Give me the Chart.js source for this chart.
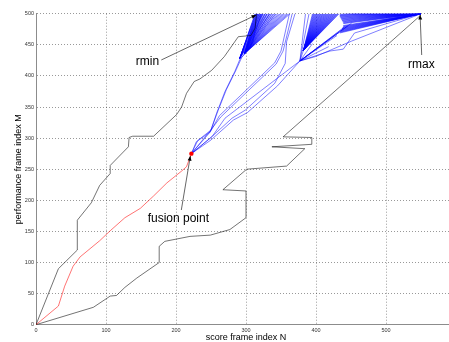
<!DOCTYPE html>
<html>
<head>
<meta charset="utf-8">
<script src="https://cdn.jsdelivr.net/npm/chart.js@4.4.1/dist/chart.umd.min.js"></script>
<style>
  html, body { margin: 0; padding: 0; overflow: hidden; background: #fff; }
  #wrap { width: 460px; height: 342px; }
</style>
</head>
<body>
<div id="wrap"><canvas id="chart" width="460" height="342"></canvas></div>
<script>
const FONT = '"Liberation Sans", Arial, Helvetica, sans-serif';

const xTicks = [0, 100, 200, 300, 400, 500];
const yTicks = [0, 50, 100, 150, 200, 250, 300, 350, 400, 450, 500];

// boundary paths [N, M]
const rminPath = [[0,0],[32,90],[59,120],[59,168],[79,196],[91,224],[106,243],[106,256],[132,286],[133,301],[138,303],[168,303],[201,338],[208,350],[215,372],[226,391],[234,395],[251,409],[269,431],[289,463],[307,465],[313,477],[315,500]];
const rmaxPath = [[0,0],[82,28],[106,46],[115,47],[127,60],[144,75],[176,100],[176,126],[184,134],[220,142],[249,144],[277,153],[300,172],[300,215],[267,217],[301,250],[358,255],[384,283],[337,286],[394,290],[394,301],[353,302],[499,447],[550,498]];

// path before fusion
const redPath = [[0,0],[32,30],[41,62],[53,94],[63,109],[91,135],[106,151],[127,172],[149,187],[168,207],[187,228],[208,247],[215,254],[222,275]];
const fusionPoint = [222, 275];

// blue paths after fusion
const blueA = [[222,275],[229,294],[249,310],[258,340],[270,375],[284,407],[291,426],[303,442],[310,455],[316,500]];
const blueB = [[222,275],[231,296],[250,313],[260,344],[272,378],[286,410],[294,430],[306,446],[322,500]];
const blueC = [[222,275],[249,310],[262,336],[341,421],[350,440],[362,500]];
const blueD = [[222,275],[249,312],[264,334],[343,419],[353,440],[366,500]];
const blueE = [[222,275],[249,300],[280,332],[299,345],[341,388],[356,420],[358,455],[370,500]];
const blueF = [[222,275],[250,297],[282,329],[302,341],[345,384],[377,424]];
const blueG = [[222,275],[252,303],[270,332],[377,424]];
const blueH = [[377,424],[399,431],[451,456],[550,500]];
const blueI = [[377,424],[420,440],[439,443],[455,469],[550,500]];

// fans: apex and end points
const fanAApex = [298, 436];
const fanAEnds = [[313,500],[314,500],[315,500],[316,500],[317,500],[318,500],[319,500],[320,500],[321,500],[322,500],[323,500],[324,500],[325,500],[327,500],[328,500],[330,500],[331,500],[333,500],[334,500],[336,500],[337,500],[339,500],[340,500],[342,500],[343,500],[345,500],[347,500],[349,500],[351,500],[353,500],[355,500],[357,500],[359,500],[361,500],[363,500]];
const fanA2Apex = [291, 428];
const fanA2Ends = [[300,455],[303,465],[306,475],[309,485],[311,492],[313,500],[315,500],[317,500],[319,500],[321,500],[324,500],[327,500],[330,500],[334,500]];
const fanBApex = [382, 441];
const fanBEnds = [[395,500],[396,500],[397,500],[398,500],[399,500],[400,500],[401,500],[402,500],[403,500],[404,500],[405,500],[406,500],[407,500],[408,500],[409,500],[410,500],[411,500],[412,500],[413,500],[414,500],[415,500],[416,500],[417,500],[418,500],[419,500],[420,500],[421,500],[422,500],[423,500],[424,500],[425,500],[426,500],[427,500],[428,500],[429,500],[430,500],[431,500],[432,500],[433,500]];
const fanB2Apex = [377, 424];
const fanB2Ends = [[382,441],[385,500],[390,500],[395,452],[418,447],[430,465],[433,470],[436,474],[440,478],[445,480],[451,485]];
const fanCApex = [550, 500];
const fanCEnds = [[434,469],[434,470],[435,471],[435,472],[436,473],[436,474],[437,475],[437,476],[438,477],[438,478],[439,479],[439,480],[439,481],[439,484],[439,485],[439,486],[438,487],[438,488],[437,489],[437,490],[436,491],[436,492],[435,493],[435,494],[434,495],[434,496],[434,497],[434,498],[434,499],[436,500],[440,500],[445,500],[452,500]];

// annotations
const annoText = ["rmin", "rmax", "fusion point"];
const annoTextAt = [[142.5, 423], [531.5, 418.5], [159.5, 170]];
const annoArrowFrom = [[179, 425.6], [551, 433.6], [207.6, 184.4]];
const annoArrowTo = [[314.5, 498], [548.7, 498], [220.5, 271.2]];

const BLUE = "rgba(0,0,255,0.5)";
const BLACK = "rgba(0,0,0,0.55)";
const RED = "rgba(255,0,0,0.55)";

function pts(arr) {
  return arr.map(([x, y]) => ({ x, y }));
}

function fanPts(apex, ends) {
  const out = [];
  ends.forEach(([x, y]) => {
    out.push({ x: apex[0], y: apex[1] });
    out.push({ x, y });
    out.push({ x, y: null });
  });
  return out;
}

function lineSet(data, color) {
  return {
    data: data,
    borderColor: color,
    borderWidth: 1,
    showLine: true,
    pointRadius: 0,
    spanGaps: false,
    tension: 0,
  };
}

const annotations = {
  id: "annotations",
  afterDatasetsDraw(chart) {
    const { ctx, scales } = chart;
    const px = (p) => [scales.x.getPixelForValue(p[0]), scales.y.getPixelForValue(p[1])];
    ctx.save();
    annoText.forEach((text, i) => {
      const [x1, y1] = px(annoArrowFrom[i]);
      const [x2, y2] = px(annoArrowTo[i]);
      ctx.strokeStyle = "rgba(0,0,0,0.6)";
      ctx.lineWidth = 1;
      ctx.beginPath();
      ctx.moveTo(x1, y1);
      ctx.lineTo(x2, y2);
      ctx.stroke();
      const a = Math.atan2(y2 - y1, x2 - x1);
      ctx.fillStyle = "#000";
      ctx.beginPath();
      ctx.moveTo(x2, y2);
      ctx.lineTo(x2 - 5 * Math.cos(a - 0.4), y2 - 5 * Math.sin(a - 0.4));
      ctx.lineTo(x2 - 5 * Math.cos(a + 0.4), y2 - 5 * Math.sin(a + 0.4));
      ctx.closePath();
      ctx.fill();
      const [tx, ty] = px(annoTextAt[i]);
      ctx.font = "12px " + FONT;
      ctx.textAlign = "left";
      ctx.textBaseline = "middle";
      ctx.fillText(text, tx, ty);
    });
    ctx.restore();
  },
};

new Chart(document.getElementById("chart"), {
  type: "scatter",
  data: {
    datasets: [
      {
        data: [{ x: fusionPoint[0], y: fusionPoint[1] }],
        pointRadius: 2.2,
        pointBackgroundColor: "#ff0000",
        pointBorderWidth: 0,
        showLine: false,
      },
      lineSet(pts(redPath), RED),
      lineSet(pts(rminPath), BLACK),
      lineSet(pts(rmaxPath), BLACK),
      lineSet(pts(blueA), BLUE),
      lineSet(pts(blueB), BLUE),
      lineSet(pts(blueC), BLUE),
      lineSet(pts(blueD), BLUE),
      lineSet(pts(blueE), BLUE),
      lineSet(pts(blueF), BLUE),
      lineSet(pts(blueG), BLUE),
      lineSet(pts(blueH), BLUE),
      lineSet(pts(blueI), BLUE),
      lineSet(fanPts(fanAApex, fanAEnds), BLUE),
      lineSet(fanPts(fanA2Apex, fanA2Ends), BLUE),
      lineSet(fanPts(fanBApex, fanBEnds), BLUE),
      lineSet(fanPts(fanB2Apex, fanB2Ends), BLUE),
      lineSet(fanPts(fanCApex, fanCEnds), BLUE),
    ],
  },
  options: {
    responsive: false,
    animation: false,
    layout: { padding: { top: 13.7, right: 0, bottom: 0, left: 0 } },
    plugins: { legend: { display: false }, tooltip: { enabled: false } },
    scales: {
      x: {
        type: "linear",
        min: 0,
        max: 600,
        afterBuildTicks: (s) => { s.ticks = xTicks.map((v) => ({ value: v })); },
        afterFit: (s) => { s.height = 17.3; },
        ticks: { font: { size: 5.5, family: FONT }, color: "#333", padding: 2, maxRotation: 0 },
        grid: { color: "rgba(0,0,0,0.4)", drawTicks: false },
        border: { dash: [1, 2], color: "#8c8c8c", width: 1 },
        title: {
          display: true,
          text: "score frame index N",
          color: "#000",
          font: { size: 9, family: FONT, lineHeight: 1 },
          padding: { top: 0, bottom: 0 },
        },
      },
      y: {
        min: 0,
        max: 500,
        afterBuildTicks: (s) => { s.ticks = yTicks.map((v) => ({ value: v })); },
        afterFit: (s) => { s.width = 36; },
        ticks: { font: { size: 5.5, family: FONT }, color: "#333", padding: 2 },
        grid: { color: "rgba(0,0,0,0.4)", drawTicks: false },
        border: { dash: [1, 2], color: "#8c8c8c", width: 1 },
        title: {
          display: true,
          text: "performance frame index M",
          color: "#000",
          font: { size: 9, family: FONT, lineHeight: 1 },
          padding: { top: 14.5, bottom: 0 },
        },
      },
    },
  },
  plugins: [annotations],
});
</script>
</body>
</html>
